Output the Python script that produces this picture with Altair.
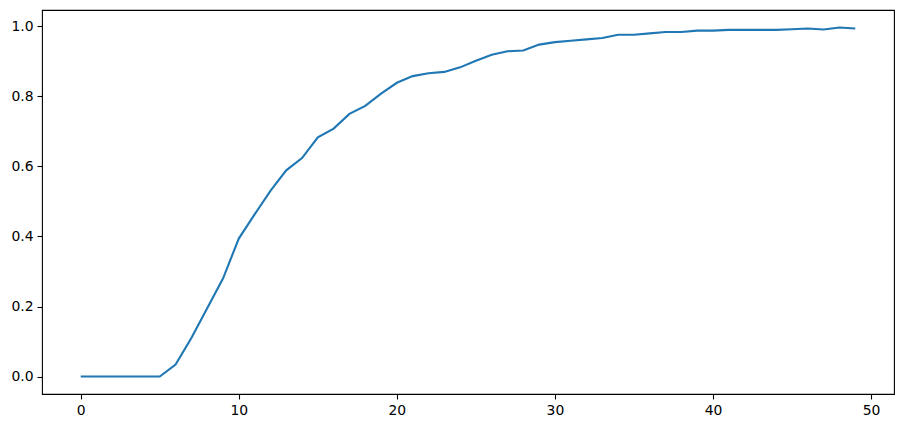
import altair as alt
import pandas as pd

xs = list(range(50))
ys = [0, 0, 0, 0, 0, 0, 0.034, 0.11, 0.195, 0.28, 0.394, 0.463, 0.53, 0.589, 0.624, 0.683,
      0.708, 0.75, 0.773, 0.808, 0.839, 0.858, 0.866, 0.870, 0.883, 0.902, 0.919, 0.929,
      0.931, 0.948, 0.955, 0.959, 0.963, 0.967, 0.976, 0.976, 0.980, 0.984, 0.984, 0.988,
      0.988, 0.990, 0.990, 0.990, 0.990, 0.992, 0.994, 0.991, 0.997, 0.994]
x_ticks = [0, 10, 20, 30, 40, 50]
y_ticks = [0.0, 0.2, 0.4, 0.6, 0.8, 1.0]

df = pd.DataFrame({"x": xs, "y": ys})

axis_common = dict(grid=False, domain=False, tickColor="black", tickWidth=1.1, tickSize=5,
                   labelFont="DejaVu Sans", labelFontSize=13.9, labelColor="black", labelPadding=4,
                   title=None)

chart = alt.Chart(df).mark_line(color="#1f77b4", strokeWidth=2.1).encode(
    x=alt.X("x:Q", scale=alt.Scale(domain=[-2.45, 51.45], nice=False, zero=False),
            axis=alt.Axis(values=x_ticks, format="d", **axis_common)),
    y=alt.Y("y:Q", scale=alt.Scale(domain=[-0.0498, 1.0468], nice=False, zero=False),
            axis=alt.Axis(values=y_ticks, format=".1f", **axis_common)),
).properties(
    width=852, height=384,
    background="white",
    autosize=alt.AutoSizeParams(type="none"),
    padding={"left": 34, "top": 2, "right": 2, "bottom": 30},
).configure_view(stroke="black", strokeWidth=1.1)

chart.save("out.html", embed_options={"renderer": "svg", "actions": False})
